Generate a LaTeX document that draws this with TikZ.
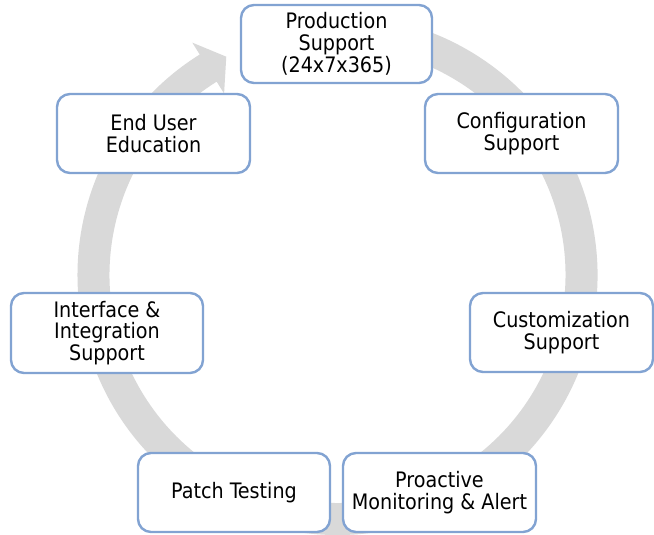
\documentclass[tikz,border=0pt]{standalone}
\usepackage{fontspec}
\setmainfont{DejaVu Sans Condensed}
\definecolor{ringgray}{RGB}{217,217,217}
\definecolor{boxblue}{RGB}{130,163,210}
\begin{document}
\begin{tikzpicture}[x=1pt,y=1pt,
  stagebox/.style={draw=boxblue, line width=2.4pt, fill=white, rounded corners=13pt,
    minimum width=193pt, minimum height=79pt, align=center, inner sep=2pt,
    font=\fontsize{21.3}{21.7}\selectfont, text=black}]
\useasboundingbox (0,0) rectangle (654,535);
\fill[white] (0,0) rectangle (654,535);
% ring arrow
\begin{scope}[shift={(337.5,260)}]
\fill[ringgray] (105:260) arc[start angle=105,end angle=-238,radius=260]
  -- (-238:274) -- (117:245) -- (-238:214) -- (-238:228)
  arc[start angle=-238,end angle=105,radius=228] -- cycle;
\end{scope}
% stages
\node[stagebox, minimum width=191pt, minimum height=78pt] (prod) at (336.5,491) {Production\\Support\\(24x7x365)};
\node[stagebox] (config) at (521.5,401.5) {Configuration\\Support};
\node[stagebox, minimum width=183pt] (custom) at (561.5,202.5) {Customization\\Support};
\node[stagebox] (proact) at (439.5,42.5) {Proactive\\Monitoring \& Alert};
\node[stagebox, minimum width=192pt] (patch) at (234,42.5) {Patch Testing};
\node[stagebox, minimum width=192pt, minimum height=80pt] (iface) at (107,202) {Interface \&\\Integration\\Support};
\node[stagebox] (enduser) at (153.5,401.5) {End User\\Education};
\end{tikzpicture}
\end{document}
